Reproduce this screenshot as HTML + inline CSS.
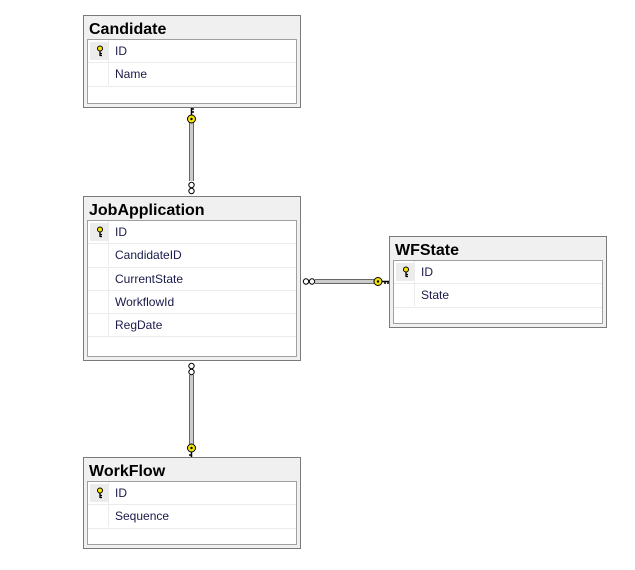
<!DOCTYPE html>
<html><head><style>
body{margin:0;width:635px;height:570px;background:#fff;position:relative;font-family:"Liberation Sans",sans-serif;overflow:hidden}
.t{position:absolute;background:#f0f0f0;border:1px solid #7a7a7a;box-sizing:border-box}
.t .h{position:absolute;left:5px;top:6px;font-weight:bold;font-size:16px;line-height:16px;color:#000;letter-spacing:0}
.t .in{position:absolute;left:3px;right:3px;top:23px;bottom:3px;background:#fff;border:1px solid #a0a0a0;box-sizing:border-box}
.r{position:relative;height:23.3px;border-bottom:1px solid #ebebeb;box-sizing:border-box;font-size:12px;color:#1a1a4a;line-height:22px}
.r .ic{position:absolute;left:0;top:0;width:20px;height:22px;border-right:1px solid #ebebeb}
.r .k{background:#ececec;left:2px;top:2px;width:18px;height:18px;position:absolute}
.r span{position:absolute;left:27px}
</style></head><body>
<svg width="635" height="570" style="position:absolute;left:0;top:0">
<defs>
<g id="key"><circle cx="0" cy="0" r="4" fill="#f7e400" stroke="#000" stroke-width="1"/><circle cx="0" cy="0" r="1.2" fill="#000"/><path d="M0 -4 V-11 M0 -10 h2.5 M0 -7 h2.5" stroke="#000" stroke-width="1.5" fill="none"/></g>
</defs>
<g stroke="#666" stroke-width="1" fill="none">
<line x1="189.5" y1="122" x2="189.5" y2="181"/><line x1="193.5" y1="122" x2="193.5" y2="181"/>
<line x1="189.5" y1="375" x2="189.5" y2="444"/><line x1="193.5" y1="375" x2="193.5" y2="444"/>
<line x1="315" y1="279.5" x2="374" y2="279.5"/><line x1="315" y1="283.5" x2="374" y2="283.5"/>
</g>
<g stroke="#ccc" stroke-width="3"><line x1="191.5" y1="122" x2="191.5" y2="181"/><line x1="191.5" y1="375" x2="191.5" y2="444"/><line x1="315" y1="281.5" x2="374" y2="281.5"/></g>
<use href="#key" transform="translate(191.5,119)"/>
<use href="#key" transform="translate(191.5,448) rotate(180)"/>
<use href="#key" transform="translate(378,281.5) rotate(90)"/>
<g fill="#fff" stroke="#000" stroke-width="1">
<circle cx="191.5" cy="185" r="2.7"/><circle cx="191.5" cy="191" r="2.7"/>
<circle cx="191.5" cy="366" r="2.7"/><circle cx="191.5" cy="372" r="2.7"/>
<circle cx="306" cy="281.5" r="2.7"/><circle cx="312" cy="281.5" r="2.7"/>
</g>
</svg>

<div class="t" style="left:83px;top:15px;width:218px;height:93px"><div class="h">Candidate</div>
<div class="in"><div class="r"><div class="ic"><div class="k"></div></div><span>ID</span></div><div class="r"><div class="ic"></div><span>Name</span></div></div></div>

<div class="t" style="left:83px;top:196px;width:218px;height:165px"><div class="h">JobApplication</div>
<div class="in"><div class="r"><div class="ic"><div class="k"></div></div><span>ID</span></div><div class="r"><div class="ic"></div><span>CandidateID</span></div><div class="r"><div class="ic"></div><span>CurrentState</span></div><div class="r"><div class="ic"></div><span>WorkflowId</span></div><div class="r"><div class="ic"></div><span>RegDate</span></div></div></div>

<div class="t" style="left:389px;top:236px;width:218px;height:92px"><div class="h">WFState</div>
<div class="in"><div class="r"><div class="ic"><div class="k"></div></div><span>ID</span></div><div class="r"><div class="ic"></div><span>State</span></div></div></div>

<div class="t" style="left:83px;top:457px;width:218px;height:92px"><div class="h">WorkFlow</div>
<div class="in"><div class="r"><div class="ic"><div class="k"></div></div><span>ID</span></div><div class="r"><div class="ic"></div><span>Sequence</span></div></div></div>

<svg width="635" height="570" style="position:absolute;left:0;top:0;pointer-events:none">
<defs><g id="smk"><circle cx="0" cy="-1.5" r="2.5" fill="#f7e400" stroke="#000"/><path d="M0 1 V6 M0 3.5 h2 M0 5.5 h2" stroke="#000" stroke-width="1.3"/></g></defs>
<use href="#smk" transform="translate(100,50)"/>
<use href="#smk" transform="translate(100,231)"/>
<use href="#smk" transform="translate(406,271)"/>
<use href="#smk" transform="translate(100,492)"/>
</svg>
</body></html>
